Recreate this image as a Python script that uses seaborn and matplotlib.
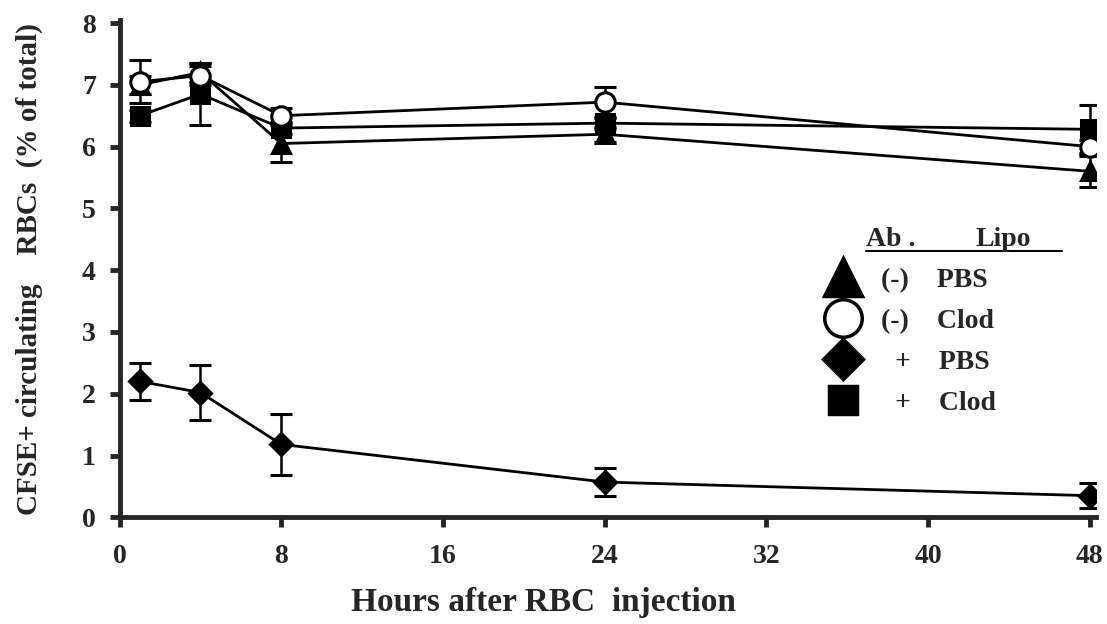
import numpy as np
import pandas as pd
import matplotlib
matplotlib.use("Agg")
import matplotlib.pyplot as plt
import seaborn as sns
from matplotlib.lines import Line2D

# Data
hours = [1, 4, 8, 24, 48]
groups = ["tri", "circ", "diam", "sq"]
ab = ["(-)", "(-)", "+", "+"]
lipo = ["PBS", "Clod", "PBS", "Clod"]
pbs_neg = [7.0, 7.2, 6.05, 6.2, 5.6]
clod_neg = [7.05, 7.15, 6.5, 6.72, 6.0]
pbs_pos = [2.2, 2.02, 1.18, 0.57, 0.35]
clod_pos = [6.5, 6.85, 6.3, 6.38, 6.28]
err_pbs_neg = [0.15, 0.15, 0.3, 0.12, 0.25]
err_clod_neg = [0.35, 0.15, 0.12, 0.25, 0.1]
err_pbs_pos = [0.3, 0.45, 0.5, 0.22, 0.2]
err_clod_pos = [0.1, 0.5, 0.1, 0.1, 0.4]

values = [pbs_neg, clod_neg, pbs_pos, clod_pos]
errors = [err_pbs_neg, err_clod_neg, err_pbs_pos, err_clod_pos]
markers = ["^", "o", "D", "s"]
faces = ["black", "white", "black", "black"]
msizes = [13, 14, 11, 13]
leg_sizes = [27, 27, 20, 20]
zorders = [3, 5, 3, 4]

df = pd.DataFrame({
    "hours": hours * 4,
    "value": sum(values, []),
    "err": sum(errors, []),
    "group": np.repeat(groups, len(hours)),
})

sns.set_style("ticks")
plt.rcParams["font.family"] = ["Liberation Serif", "DejaVu Serif"]
plt.rcParams["font.weight"] = "bold"

fig = plt.figure(figsize=(11.07, 6.24), dpi=100)
ax = fig.add_axes([0.108, 0.171, 0.882, 0.797])

for i, g in enumerate(groups):
    d = df[df["group"] == g]
    ax.errorbar(d["hours"], d["value"], yerr=d["err"], fmt="none", ecolor="black",
                elinewidth=1.8, capsize=8, capthick=2.2, zorder=zorders[i] - 0.5)
    sns.lineplot(data=d, x="hours", y="value", ax=ax, color="black", linewidth=2.0,
                 marker=markers[i], markersize=msizes[i], markerfacecolor=faces[i],
                 markeredgecolor="black", markeredgewidth=2.2, zorder=zorders[i])

ax.set_xlim(0, 48.3)
ax.set_ylim(0, 8.05)
ax.set_xticks(range(0, 49, 8))
ax.set_yticks(range(0, 9))
sns.despine(ax=ax)
for s in ["left", "bottom"]:
    ax.spines[s].set_linewidth(3.5)
ax.tick_params(axis="both", direction="out", length=7, width=3.5, labelsize=20)
ax.tick_params(axis="x", pad=12)
ax.tick_params(axis="y", pad=10)
for lab in ax.get_xticklabels() + ax.get_yticklabels():
    lab.set_fontweight("bold")

ax.set_xlabel("Hours after RBC  injection", fontsize=24, fontweight="bold")
ax.xaxis.set_label_coords(0.434, -0.14)
ax.set_ylabel("CFSE+ circulating    RBCs  (% of total)", fontsize=21, fontweight="bold")
ax.yaxis.set_label_coords(-0.078, 0.5)

# legend
handles = [Line2D([], [], linestyle="none", marker=markers[i], markersize=leg_sizes[i],
                  markerfacecolor=faces[i], markeredgecolor="black", markeredgewidth=2.5)
           for i in range(4)]
labels = [f"  {a}    {l}" if a == "+" else f"{a}    {l}" for a, l in zip(ab, lipo)]
leg = ax.legend(handles, labels, loc="upper left", bbox_to_anchor=(0.695, 0.553), frameon=False,
                prop={"size": 20, "weight": "bold"}, handletextpad=0.7, labelspacing=0.56,
                handlelength=1.4)
ax.text(0.764, 0.546, "Ab .", transform=ax.transAxes, fontsize=20, fontweight="bold",
        ha="left", va="baseline")
ax.text(0.877, 0.546, "Lipo", transform=ax.transAxes, fontsize=20, fontweight="bold",
        ha="left", va="baseline")
ax.plot([0.764, 0.965], [0.535, 0.535], transform=ax.transAxes, color="black", lw=1.5,
        clip_on=False)

fig.savefig("out.png", dpi=100)
